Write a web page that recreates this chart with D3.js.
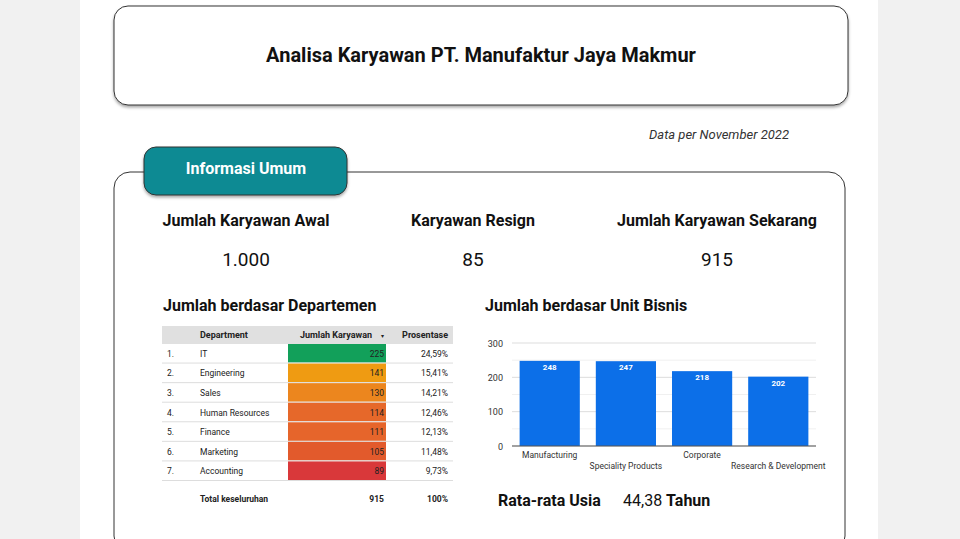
<!DOCTYPE html><html><head><meta charset="utf-8"><script src="https://cdn.jsdelivr.net/npm/d3@7"></script>
<style>body{margin:0;background:#f1f1f1;font-family:Roboto,sans-serif}</style></head><body><svg id="c" width="960" height="539"></svg>
<script>
const departments=["IT","Engineering","Sales","Human Resources","Finance","Marketing","Accounting"];
const deptCounts=[225,141,130,114,111,105,89];
const deptPct=["24,59%","15,41%","14,21%","12,46%","12,13%","11,48%","9,73%"];
const deptColors=["#12a05a","#ef9b12","#ec861e","#e6682a","#e6652b","#e25a2c","#d9383a"];
const units=["Manufacturing","Speciality Products","Corporate","Research & Development"];
const unitCounts=[248,247,218,202];
const yTicks=[0,100,200,300];
const kpiLabels=["Jumlah Karyawan Awal","Karyawan Resign","Jumlah Karyawan Sekarang"];
const kpiValues=["1.000","85","915"];

const svg=d3.select("#c");
const defs=svg.append("defs");
const f=defs.append("filter").attr("id","sh").attr("x","-5%").attr("y","-5%").attr("width","110%").attr("height","120%");
f.append("feDropShadow").attr("dx",0).attr("dy",2).attr("stdDeviation",1.5).attr("flood-opacity",0.35);
svg.append("rect").attr("x",80).attr("y",0).attr("width",798).attr("height",539).attr("fill","#fff");
svg.append("rect").attr("x",114).attr("y",6).attr("width",734).attr("height",99).attr("rx",14).attr("fill","#fff").attr("stroke","#333").attr("filter","url(#sh)");
svg.append("text").attr("x",481).attr("y",62).attr("text-anchor","middle").attr("font-size",20).attr("font-weight","bold").attr("fill","#111").text("Analisa Karyawan PT. Manufaktur Jaya Makmur");
svg.append("text").attr("x",789).attr("y",139).attr("text-anchor","end").attr("font-size",13).attr("font-style","italic").attr("fill","#333").text("Data per November 2022");
svg.append("rect").attr("x",114).attr("y",172).attr("width",731).attr("height",380).attr("rx",16).attr("fill","#fff").attr("stroke","#333");
svg.append("rect").attr("x",144).attr("y",147).attr("width",203).attr("height",48).attr("rx",12).attr("fill","#0b8a93").attr("stroke","#333").attr("filter","url(#sh)");
svg.append("text").attr("x",246).attr("y",174).attr("text-anchor","middle").attr("font-size",16).attr("font-weight","bold").attr("fill","#fff").text("Informasi Umum");
const kx=[246,473,717];
kpiLabels.forEach((l,i)=>{
 svg.append("text").attr("x",kx[i]).attr("y",226).attr("text-anchor","middle").attr("font-size",16).attr("font-weight","bold").attr("fill","#111").text(l);
 svg.append("text").attr("x",kx[i]).attr("y",266).attr("text-anchor","middle").attr("font-size",19).attr("fill","#111").text(kpiValues[i]);
});
svg.append("text").attr("x",163).attr("y",311).attr("font-size",16).attr("font-weight","bold").attr("fill","#111").text("Jumlah berdasar Departemen");
svg.append("text").attr("x",485).attr("y",311).attr("font-size",16).attr("font-weight","bold").attr("fill","#111").text("Jumlah berdasar Unit Bisnis");
// table
const t=svg.append("g").attr("font-size",8.5).attr("fill","#222");
t.append("rect").attr("x",162).attr("y",326).attr("width",291).attr("height",18).attr("fill","#e0e0e0");
t.append("text").attr("x",200).attr("y",338).attr("font-weight","bold").attr("font-size",9).text("Department");
t.append("text").attr("x",372).attr("y",338).attr("text-anchor","end").attr("font-weight","bold").attr("font-size",9).text("Jumlah Karyawan");
t.append("text").attr("x",381).attr("y",338).attr("font-size",6).text("▾");
t.append("text").attr("x",448).attr("y",338).attr("text-anchor","end").attr("font-weight","bold").attr("font-size",9).text("Prosentase");
const ry=d3.scaleBand().domain(departments).range([344,481]);
departments.forEach((d,i)=>{
 const y=ry(d),h=ry.bandwidth();
 t.append("rect").attr("x",288).attr("y",y).attr("width",98).attr("height",h-1).attr("fill",deptColors[i]);
 t.append("line").attr("x1",162).attr("x2",453).attr("y1",y+h-0.5).attr("y2",y+h-0.5).attr("stroke","#ddd");
 const ty=y+h/2+3;
 t.append("text").attr("x",167).attr("y",ty).text((i+1)+".");
 t.append("text").attr("x",200).attr("y",ty).text(d);
 t.append("text").attr("x",384).attr("y",ty).attr("text-anchor","end").text(deptCounts[i]);
 t.append("text").attr("x",448).attr("y",ty).attr("text-anchor","end").text(deptPct[i]);
});
t.append("text").attr("x",200).attr("y",502).attr("font-weight","bold").text("Total keseluruhan");
t.append("text").attr("x",384).attr("y",502).attr("text-anchor","end").attr("font-weight","bold").text(d3.sum(deptCounts));
t.append("text").attr("x",448).attr("y",502).attr("text-anchor","end").attr("font-weight","bold").text("100%");
// bar chart
const x=d3.scaleBand().domain(units).range([512,816]).paddingInner(0.21).paddingOuter(0.1);
const y=d3.scaleLinear().domain([0,300]).range([446,343]);
const g=svg.append("g");
d3.range(0,301,50).forEach(v=>g.append("line").attr("x1",512).attr("x2",816).attr("y1",y(v)).attr("y2",y(v)).attr("stroke",v%100?"#f0f0f0":"#ddd"));
yTicks.forEach(v=>g.append("text").attr("x",503).attr("y",y(v)+3.5).attr("text-anchor","end").attr("font-size",9).attr("fill","#333").text(v));
units.forEach((u,i)=>{
 g.append("rect").attr("x",x(u)).attr("y",y(unitCounts[i])).attr("width",x.bandwidth()).attr("height",y(0)-y(unitCounts[i])).attr("fill","#0c6fe8");
 g.append("text").attr("x",x(u)+x.bandwidth()/2).attr("y",y(unitCounts[i])+9).attr("text-anchor","middle").attr("font-size",8).attr("font-weight","bold").attr("fill","#fff").text(unitCounts[i]);
 g.append("text").attr("x",x(u)+x.bandwidth()/2).attr("y",i%2?469:458).attr("text-anchor","middle").attr("font-size",8.5).attr("fill","#333").text(u);
});
g.append("line").attr("x1",512).attr("x2",816).attr("y1",y(0)).attr("y2",y(0)).attr("stroke","#555");
svg.append("text").attr("x",498).attr("y",506).attr("font-size",16).attr("font-weight","bold").attr("fill","#111").text("Rata-rata Usia");
const r=svg.append("text").attr("x",623).attr("y",506).attr("font-size",16).attr("fill","#111");
r.append("tspan").text("44,38 ");r.append("tspan").attr("font-weight","bold").text("Tahun");
</script></body></html>
